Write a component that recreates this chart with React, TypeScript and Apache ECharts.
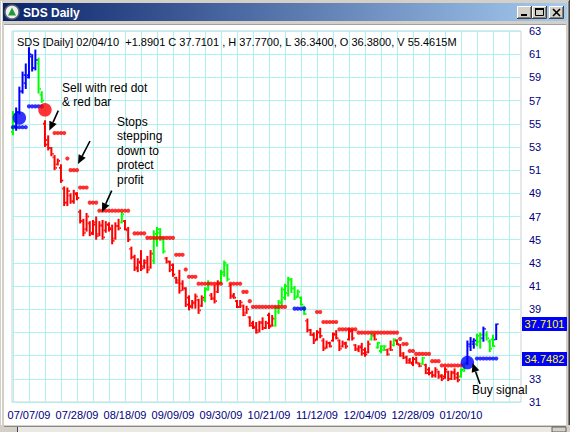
import React, { useEffect, useRef } from 'react';
import * as echarts from 'echarts';

const _ = null;

// x-axis date labels and the bar index each one sits on
const dateLabels = ['07/07/09', '07/28/09', '08/18/09', '09/09/09', '09/30/09', '10/21/09', '11/12/09', '12/04/09', '12/28/09', '01/20/10'];
const dateIndex = [5, 20, 35, 50, 65, 80, 95, 110, 125, 140];

// daily OHLC, 06/29/09 .. 02/04/10
const opens = [
  54.3, 54.8, 56.0, 57.8, 58.5, 59.2, 60.8, 59.8, 60.2, 57.5,
  55.0, 53.6, 52.9, 52.1, 51.5, 51.2, 49.4, 48.2, 48.8, 48.3,
  48.9, 47.4, 46.6, 45.9, 46.4, 45.6, 46.5, 45.5, 46.3, 45.8,
  46.3, 46.0, 45.1, 46.2, 46.5, 46.6, 45.8, 44.2, 43.5, 42.5,
  43.0, 42.7, 43.2, 42.6, 43.2, 45.0, 45.6, 45.0, 43.4, 43.1,
  42.8, 41.7, 41.5, 41.2, 40.8, 40.0, 39.3, 39.5, 39.8, 39.3,
  39.8, 40.8, 40.2, 40.0, 40.5, 41.3, 42.0, 42.8, 41.0, 40.2,
  39.7, 39.2, 39.3, 38.7, 38.3, 37.8, 37.5, 37.2, 37.9, 37.4,
  38.5, 37.6, 37.6, 38.8, 39.5, 40.0, 40.4, 41.5, 40.8, 40.1,
  40.0, 39.2, 38.0, 37.2, 36.8, 36.4, 37.0, 36.3, 35.7, 36.1,
  36.3, 36.9, 36.3, 35.8, 36.0, 36.4, 37.1, 35.9, 35.5, 35.8,
  35.5, 35.3, 36.4, 36.7, 35.7, 35.4, 35.5, 35.5, 35.6, 35.9,
  36.3, 35.9, 35.2, 34.9, 34.6, 34.3, 34.7, 34.3, 34.3, 34.2,
  33.8, 33.5, 33.3, 33.6, 33.3, 33.2, 33.6, 33.0, 33.6, 33.4,
  33.2, 33.7, 34.4, 35.8, 36.0, 36.0, 36.2, 36.5, 36.8, 36.2,
  36.4, 36.38,
];
const highs = [
  56.1, 56.4, 58.2, 59.5, 60.2, 61.6, 61.0, 61.4, 60.7, 57.8,
  55.3, 54.0, 53.0, 52.3, 52.0, 51.5, 49.6, 49.5, 49.0, 49.3,
  49.1, 47.6, 46.8, 47.3, 46.6, 46.7, 47.0, 46.6, 46.7, 46.6,
  46.5, 46.3, 46.5, 46.8, 47.4, 46.7, 46.1, 44.4, 43.7, 43.4,
  44.1, 43.3, 43.6, 44.1, 45.8, 46.1, 46.0, 45.2, 43.5, 43.2,
  42.95, 41.8, 42.4, 41.5, 40.9, 40.2, 39.8, 40.35, 39.9, 40.2,
  40.9, 41.5, 40.4, 41.1, 41.5, 42.4, 43.2, 42.9, 41.2, 40.4,
  39.8, 39.8, 39.4, 39.3, 38.4, 38.0, 37.9, 38.0, 38.3, 38.0,
  38.7, 38.5, 39.3, 39.8, 40.9, 41.2, 41.8, 41.7, 41.0, 40.7,
  40.1, 39.3, 38.2, 37.3, 37.0, 37.2, 37.4, 36.5, 36.3, 36.2,
  37.0, 37.2, 36.4, 36.3, 36.2, 37.4, 37.3, 36.0, 35.9, 36.1,
  35.7, 36.3, 36.9, 36.9, 36.2, 35.9, 35.9, 35.6, 36.3, 36.5,
  36.4, 36.0, 35.3, 35.0, 34.8, 34.9, 34.9, 34.4, 34.9, 34.3,
  34.0, 33.7, 34.0, 33.7, 33.4, 34.0, 33.7, 33.7, 33.9, 33.6,
  33.9, 34.4, 36.3, 36.6, 36.5, 36.9, 37.0, 37.5, 37.1, 36.4,
  36.8, 37.77,
];
const lows = [
  54.0, 54.4, 55.8, 57.6, 58.0, 58.9, 59.5, 59.6, 57.6, 56.8,
  53.0, 52.7, 52.2, 51.0, 51.4, 49.9, 47.9, 47.9, 48.1, 48.1,
  48.4, 46.4, 45.3, 45.7, 45.3, 45.4, 45.0, 45.3, 45.0, 45.6,
  45.7, 44.6, 45.0, 45.8, 46.4, 45.8, 44.8, 43.3, 42.3, 42.2,
  42.3, 42.5, 42.1, 42.5, 42.9, 44.4, 44.9, 43.8, 42.95, 42.2,
  41.8, 41.2, 40.35, 40.6, 39.2, 38.9, 39.05, 39.05, 38.6, 39.2,
  39.6, 40.6, 39.8, 39.5, 40.4, 41.2, 41.8, 41.4, 39.9, 39.9,
  39.1, 39.1, 38.4, 38.6, 37.5, 37.3, 36.9, 37.0, 37.2, 37.3,
  37.3, 37.5, 37.5, 38.6, 39.3, 39.8, 40.1, 40.4, 39.8, 40.0,
  39.3, 38.5, 37.0, 36.7, 36.0, 36.3, 36.5, 35.4, 35.6, 35.7,
  36.2, 36.4, 35.4, 35.7, 35.6, 36.3, 36.3, 35.4, 35.3, 35.0,
  34.9, 35.2, 36.3, 36.3, 35.6, 35.2, 35.4, 35.0, 35.4, 35.8,
  35.9, 34.9, 34.7, 34.3, 34.3, 34.1, 34.3, 34.0, 34.2, 33.4,
  33.3, 33.1, 33.1, 33.0, 32.8, 33.0, 32.8, 32.9, 32.9, 32.7,
  33.1, 33.6, 34.2, 35.4, 35.6, 35.8, 35.6, 36.2, 36.3, 35.3,
  35.75, 36.34,
];
const closes = [
  55.8, 56.0, 57.8, 59.2, 59.0, 61.0, 59.8, 60.5, 58.0, 57.0,
  53.2, 52.9, 52.4, 51.2, 51.8, 50.1, 48.2, 49.2, 48.3, 49.0,
  48.6, 46.6, 45.6, 47.0, 45.5, 46.3, 45.3, 46.2, 45.2, 46.3,
  45.9, 44.9, 46.2, 46.0, 47.2, 45.9, 45.0, 43.5, 42.6, 43.1,
  42.5, 43.0, 42.4, 43.8, 45.5, 45.9, 45.2, 44.0, 43.1, 42.4,
  42.0, 41.3, 40.6, 40.8, 39.4, 39.2, 39.6, 40.1, 38.9, 40.0,
  40.7, 41.3, 39.9, 39.7, 41.3, 42.2, 43.0, 41.6, 40.1, 40.0,
  39.2, 39.6, 38.5, 39.0, 37.6, 37.4, 37.0, 37.8, 37.4, 37.8,
  37.5, 38.2, 39.1, 39.6, 40.7, 41.0, 41.6, 40.8, 40.0, 40.5,
  39.4, 38.6, 37.2, 36.8, 36.3, 37.0, 36.7, 35.6, 36.1, 35.8,
  36.8, 36.5, 35.6, 36.1, 35.8, 37.1, 36.5, 35.6, 35.7, 35.2,
  35.1, 36.0, 36.8, 36.4, 36.1, 35.8, 35.8, 35.1, 35.5, 36.4,
  36.0, 35.0, 34.8, 34.4, 34.4, 34.7, 34.4, 34.1, 34.8, 33.5,
  33.5, 33.3, 33.8, 33.2, 33.0, 33.8, 33.0, 33.5, 33.1, 32.9,
  33.8, 34.3, 36.0, 36.2, 36.3, 36.7, 36.8, 37.3, 36.5, 35.6,
  35.82, 37.7101,
];
const volumeLastM = 55.4615;

// bar colour code per day: b = long trend, r = short trend, g = up bar
const barColors =
  'gbbbbbbbgg' + 'rrrrrrrrrr' + 'rrrrrrrrrr' + 'rrrrgrrrrr' + 'rrrrggggrr' +
  'rrrrrrrrrr' + 'ggrrrgggrr' + 'rrrrrrrrrr' + 'rrgggggggg' + 'ggrrrrrrrr' +
  'rrrrrrrrrr' + 'rrgrgggrrg' + 'rrrrrrrrgr' + 'rrrrrrrrrr' + 'ggbbbggbgg' + 'gb';

// trailing stop level per day
const stopLevels = [
  54.7, 54.7, 54.7, 54.7, 54.7, 56.5, 56.5, 56.5, 56.5, 56.5,
  _, _, _, 54.2, 54.2, 54.2, 54.2, 52.0, 51.0, 51.0,
  51.0, 49.5, 49.5, 49.5, 48.2, 48.2, 48.2, 47.5, 47.5, 47.5,
  47.5, 47.5, 47.5, 47.5, 47.5, 47.5, 47.5, _, 45.55, 45.55,
  45.55, 45.55, 45.16, 45.16, 45.16, 45.16, 45.16, 45.16, 45.16, 45.16,
  45.16, 43.7, 43.7, 43.7, 42.43, 41.8, 41.8, 41.8, 41.2, 41.2,
  41.2, 41.2, 41.2, 41.2, 41.2, 41.2, _, _, 41.2, 41.2,
  41.2, 41.2, 40.5, 40.5, 39.7, 39.2, 39.2, 39.2, 39.2, 39.2,
  39.2, 39.2, 39.2, 39.2, 39.2, 39.2, _, _, 39.05, 39.05,
  39.05, 39.05, _, _, _, 38.76, 38.76, 37.9, 37.9, 37.9,
  37.9, 37.9, 37.27, 37.27, 37.27, 37.27, 37.27, 37.27, 36.98, 36.98,
  36.98, 36.98, 36.98, 36.98, 36.98, 36.98, 36.98, 36.98, 36.98, 36.98,
  36.98, 36.45, 36.0, 36.0, 35.4, 35.4, 35.15, 35.15, 35.15, 35.15,
  35.15, 34.52, 34.52, 34.52, 34.15, 34.15, 34.15, 34.15, 34.15, 34.15,
  34.15, _, _, _, _, 34.7482, 34.7482, 34.7482, 34.7482, 34.7482,
  34.7482, 34.7482,
];
// which side each stop belongs to: b = long (buy) stop, r = short (sell) stop
const stopSide = 'b'.repeat(10) + 'r'.repeat(78) + 'b'.repeat(4) + 'r'.repeat(53) + 'b'.repeat(7);

// trade signals
const signalIndex = [2, 10, 142];
const signalLevel = [55.5, 56.2, 34.4];
const signalKind = ['buy', 'sell', 'buy'];

const RED = '#ff0000';
const GREEN = '#00ff00';
const BLUE = '#0000ff';
const NAVY = '#000080';
const GRID = '#aef2f2';
const FONT = '"Liberation Sans", Arial, sans-serif';
const colorOf: Record<string, string> = { r: RED, g: GREEN, b: BLUE };

const X_MIN = -0.3;
const X_MAX = 158.75;

function arrow(x1: number, y1: number, x2: number, y2: number) {
  const dx = x2 - x1;
  const dy = y2 - y1;
  const len = Math.hypot(dx, dy);
  const ux = dx / len;
  const uy = dy / len;
  const head = 9;
  const half = 4;
  const bx = x2 - ux * head;
  const by = y2 - uy * head;
  return [
    { type: 'line', z: 100, shape: { x1, y1, x2: bx, y2: by }, style: { stroke: '#000', lineWidth: 1.6 } },
    {
      type: 'polygon', z: 100,
      shape: { points: [[x2, y2], [bx - uy * half, by + ux * half], [bx + uy * half, by - ux * half]] },
      style: { fill: '#000' },
    },
  ];
}

function winButton(x: number, y: number, kind: string) {
  const w = 15;
  const h = 13;
  const els: any[] = [
    { type: 'rect', shape: { x, y, width: w, height: h }, style: { fill: '#d4d0c8' } },
    { type: 'polyline', shape: { points: [[x + 0.5, y + h], [x + 0.5, y + 0.5], [x + w, y + 0.5]] }, style: { stroke: '#ffffff', lineWidth: 1, fill: null } },
    { type: 'polyline', shape: { points: [[x, y + h - 0.5], [x + w - 0.5, y + h - 0.5], [x + w - 0.5, y]] }, style: { stroke: '#404040', lineWidth: 1, fill: null } },
    { type: 'polyline', shape: { points: [[x + 1, y + h - 1.5], [x + w - 1.5, y + h - 1.5], [x + w - 1.5, y + 1]] }, style: { stroke: '#808080', lineWidth: 1, fill: null } },
  ];
  if (kind === 'min') {
    els.push({ type: 'rect', shape: { x: x + 4, y: y + 8, width: 6, height: 2 }, style: { fill: '#000' } });
  } else if (kind === 'max') {
    els.push({ type: 'rect', shape: { x: x + 3.5, y: y + 2.5, width: 8, height: 7 }, style: { fill: null, stroke: '#000', lineWidth: 1 } });
    els.push({ type: 'rect', shape: { x: x + 3, y: y + 2, width: 9, height: 2 }, style: { fill: '#000' } });
  } else {
    els.push({ type: 'line', shape: { x1: x + 4, y1: y + 3, x2: x + 11, y2: y + 10 }, style: { stroke: '#000', lineWidth: 1.6 } });
    els.push({ type: 'line', shape: { x1: x + 11, y1: y + 3, x2: x + 4, y2: y + 10 }, style: { stroke: '#000', lineWidth: 1.6 } });
  }
  return els;
}

export default function App() {
  const ref = useRef<HTMLDivElement>(null);

  useEffect(() => {
    if (!ref.current) return;
    const chart = echarts.init(ref.current, null, { renderer: 'svg' });

    const n = closes.length;
    const barData = closes.map((c, i) => [i, opens[i], highs[i], lows[i], c]);
    const redStops: number[][] = [];
    const blueStops: number[][] = [];
    stopLevels.forEach((v, i) => {
      if (v === null) return;
      (stopSide[i] === 'b' ? blueStops : redStops).push([i, v]);
    });
    const signals = signalIndex.map((i, k) => ({
      value: [i, signalLevel[k]],
      itemStyle: { color: signalKind[k] === 'buy' ? BLUE : RED },
    }));
    const weekLines: number[][] = [];
    for (let v = 0; v <= X_MAX; v += 5) weekLines.push([v, 63]);

    const last = n - 1;
    const change = closes[last] - closes[last - 1];
    const header =
      `SDS [Daily] 02/04/10  ${change >= 0 ? '+' : ''}${change.toFixed(4)} C ${closes[last].toFixed(4)} , ` +
      `H ${highs[last].toFixed(4)}, L ${lows[last].toFixed(4)}, O ${opens[last].toFixed(4)}, V ${volumeLastM.toFixed(4)}M`;

    const boxValues = [closes[last], stopLevels[last] as number];
    const boxes = boxValues.map((v) => [X_MAX, v]);

    const titleGrad = new echarts.graphic.LinearGradient(0, 0, 1, 0, [
      { offset: 0, color: '#0a246a' },
      { offset: 1, color: '#a6caf0' },
    ]);

    const chrome: any[] = [
      // window frame
      { type: 'rect', shape: { x: 0, y: 0, width: 570, height: 24 }, style: { fill: '#d4d0c8' } },
      { type: 'rect', shape: { x: 0, y: 0, width: 4, height: 432 }, style: { fill: '#d4d0c8' } },
      { type: 'rect', shape: { x: 566, y: 0, width: 4, height: 432 }, style: { fill: '#d4d0c8' } },
      { type: 'line', shape: { x1: 1.5, y1: 1, x2: 1.5, y2: 432 }, style: { stroke: '#ffffff', lineWidth: 1 } },
      { type: 'line', shape: { x1: 569.5, y1: 0, x2: 569.5, y2: 432 }, style: { stroke: '#404040', lineWidth: 1 } },
      { type: 'line', shape: { x1: 568.5, y1: 1, x2: 568.5, y2: 432 }, style: { stroke: '#808080', lineWidth: 1 } },
      { type: 'rect', shape: { x: 3, y: 3, width: 564, height: 18 }, style: { fill: titleGrad } },
      { type: 'line', shape: { x1: 4, y1: 24.5, x2: 566, y2: 24.5 }, style: { stroke: '#a0a0a0', lineWidth: 1 } },
      // window icon
      { type: 'circle', shape: { cx: 12, cy: 12, r: 7 }, style: { fill: '#eeeeee', stroke: '#5a6470', lineWidth: 1.5 } },
      { type: 'polygon', shape: { points: [[12, 7.5], [8, 15.5], [16, 15.5]] }, style: { fill: '#1f9a3a' } },
      { type: 'text', style: { text: 'SDS Daily', x: 23, y: 12.5, fill: '#ffffff', fontSize: 12, fontWeight: 'bold', fontFamily: FONT, verticalAlign: 'middle' } },
      ...winButton(517, 6, 'min'),
      ...winButton(532, 6, 'max'),
      ...winButton(549, 6, 'close'),
      // bottom scroll strip
      { type: 'rect', shape: { x: 0, y: 425, width: 570, height: 7 }, style: { fill: '#d4d0c8' } },
      { type: 'rect', shape: { x: 18, y: 427, width: 534, height: 5 }, style: { fill: '#ebe9e4' } },
      { type: 'line', shape: { x1: 4, y1: 426.5, x2: 566, y2: 426.5 }, style: { stroke: '#8a8a8a', lineWidth: 1 } },
      { type: 'line', shape: { x1: 17.5, y1: 427, x2: 17.5, y2: 432 }, style: { stroke: '#404040', lineWidth: 1 } },
      { type: 'rect', shape: { x: 552, y: 427, width: 14, height: 5 }, style: { fill: '#d4d0c8', stroke: '#606060', lineWidth: 1 } },
    ];

    const notes: any[] = [
      { type: 'text', z: 100, style: { text: header, x: 17, y: 42, fill: '#000', fontSize: 11, fontFamily: FONT, verticalAlign: 'middle' } },
      { type: 'text', z: 100, style: { text: 'Sell with red dot\n& red bar', x: 62, y: 81, fill: '#000', fontSize: 12, lineHeight: 14, fontFamily: FONT, verticalAlign: 'top' } },
      { type: 'text', z: 100, style: { text: 'Stops\nstepping\ndown to\nprotect\nprofit', x: 117, y: 114.5, fill: '#000', fontSize: 12, lineHeight: 14.5, fontFamily: FONT, verticalAlign: 'top' } },
      { type: 'text', z: 100, style: { text: 'Buy signal', x: 472, y: 390, fill: '#000', fontSize: 12, fontFamily: FONT, verticalAlign: 'middle' } },
      ...arrow(58.3, 110.7, 49.3, 130.5),
      ...arrow(90, 141, 78, 164),
      ...arrow(111.7, 190.7, 102, 212),
      ...arrow(480, 384, 472.5, 363),
    ];

    chart.setOption({
      animation: false,
      backgroundColor: '#ffffff',
      grid: { left: 12, top: 31, width: 509, height: 371, show: true, borderColor: '#cfcfcf', borderWidth: 1, backgroundColor: 'transparent' },
      xAxis: {
        type: 'value',
        min: X_MIN,
        max: X_MAX,
        splitLine: { show: false },
        axisLine: { show: false },
        axisTick: { show: false },
        axisLabel: {
          customValues: dateIndex,
          formatter: (v: number) => {
            const k = dateIndex.indexOf(Math.round(v));
            return k >= 0 ? dateLabels[k] : '';
          },
          color: NAVY,
          fontSize: 11,
          fontFamily: FONT,
          margin: 7,
        },
      },
      yAxis: {
        type: 'value',
        position: 'right',
        min: 31,
        max: 63,
        interval: 2,
        axisLine: { show: false },
        axisTick: { show: false },
        splitLine: { show: true, lineStyle: { color: GRID, width: 1 } },
        axisLabel: {
          color: NAVY,
          fontSize: 11,
          fontFamily: FONT,
          margin: 8,
          // the price boxes sit on top of the scale labels they cover
          formatter: (v: number) => (boxValues.some((b) => Math.abs(b - v) < 1.2) ? '' : String(v)),
        },
      },
      graphic: [...chrome, ...notes],
      series: [
        {
          type: 'custom',
          z: 1,
          silent: true,
          data: weekLines,
          renderItem: (params: any, api: any) => {
            const p = api.coord([api.value(0), api.value(1)]);
            const cs = params.coordSys;
            const x = Math.round(p[0]) + 0.5;
            return { type: 'line', shape: { x1: x, y1: cs.y, x2: x, y2: cs.y + cs.height }, style: { stroke: GRID, lineWidth: 1 } };
          },
        },
        {
          type: 'custom',
          z: 3,
          data: barData,
          encode: { x: 0, y: [1, 2, 3, 4] },
          renderItem: (params: any, api: any) => {
            const i = api.value(0);
            const pO = api.coord([i, api.value(1)]);
            const pH = api.coord([i, api.value(2)]);
            const pL = api.coord([i, api.value(3)]);
            const pC = api.coord([i, api.value(4)]);
            const col = colorOf[barColors[params.dataIndex]];
            const x = pH[0];
            return {
              type: 'group',
              children: [
                { type: 'rect', shape: { x: x - 1, y: pH[1], width: 2, height: Math.max(1.5, pL[1] - pH[1]) }, style: { fill: col } },
                { type: 'rect', shape: { x: x - 2, y: pO[1] - 0.9, width: 1, height: 1.8 }, style: { fill: col } },
                { type: 'rect', shape: { x: x + 1, y: pC[1] - 0.9, width: 1.3, height: 1.8 }, style: { fill: col } },
              ],
            };
          },
        },
        {
          type: 'scatter',
          z: 4,
          symbol: 'circle',
          symbolSize: 4.2,
          data: redStops,
          itemStyle: { color: RED },
        },
        {
          type: 'scatter',
          z: 4,
          symbol: 'circle',
          symbolSize: 4.2,
          data: blueStops,
          itemStyle: { color: BLUE },
        },
        {
          type: 'scatter',
          z: 5,
          symbol: 'circle',
          symbolSize: 13.5,
          data: signals,
        },
        {
          type: 'custom',
          z: 6,
          clip: false,
          data: boxes,
          renderItem: (params: any, api: any) => {
            const p = api.coord([api.value(0), api.value(1)]);
            const y = Math.round(p[1]);
            return {
              type: 'group',
              children: [
                { type: 'rect', shape: { x: p[0] + 1, y: y - 7, width: 45, height: 14 }, style: { fill: BLUE } },
                {
                  type: 'text',
                  style: {
                    text: api.value(1).toFixed(4), x: p[0] + 23.5, y: y,
                    fill: '#ffff00', fontSize: 11, fontFamily: FONT, align: 'center', verticalAlign: 'middle',
                  },
                },
              ],
            };
          },
        },
      ],
    });

    return () => chart.dispose();
  }, []);

  return <div ref={ref} style={{ position: 'fixed', left: 0, top: 0, width: 570, height: 432 }} />;
}
